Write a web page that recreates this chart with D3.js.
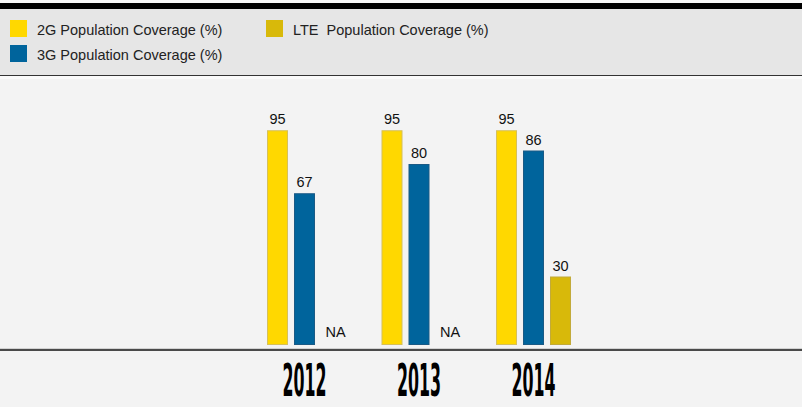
<!DOCTYPE html>
<html>
<head>
<meta charset="utf-8" />
<style>
  body { margin: 0; background: #f3f3f3; }
  svg { display: block; }
  text { font-family: "Liberation Sans", Arial, sans-serif; fill: #111; }
  .legend-text { font-size: 14.5px; fill: #222; }
  .value { font-size: 14.5px; text-anchor: middle; }
  .year { font-family: "Liberation Sans Narrow", "DejaVu Sans Condensed", sans-serif; font-weight: bold; font-size: 44px; text-anchor: middle; fill: #000; }
</style>
<script src="https://cdn.jsdelivr.net/npm/d3@7"></script>
</head>
<body>
<div id="graph"></div>
<script>
  var years = ['2012', '2013', '2014'];
  var seriesNames = ['2G Population Coverage (%)', '3G Population Coverage (%)', 'LTE  Population Coverage (%)'];
  var cov2G = [95, 95, 95];
  var cov3G = [67, 80, 86];
  var covLTE = [null, null, 30];   // NA

  var colors = ['#ffd800', '#00649c', '#d8b90a'];
  var strokes = ['#d6c05a', '#1a5a85', '#c2aa3a'];

  var w = 802, h = 407;

  var svg = d3.select('#graph').append('svg')
      .attr('width', w)
      .attr('height', h);

  // background pieces
  svg.append('rect').attr('width', w).attr('height', h).attr('fill', '#f3f3f3');
  svg.append('rect').attr('x', 0).attr('y', 9).attr('width', w).attr('height', 66).attr('fill', '#e6e6e6');
  svg.append('rect').attr('x', 0).attr('y', 3).attr('width', w).attr('height', 6).attr('fill', '#000');
  svg.append('rect').attr('x', 0).attr('y', 0).attr('width', w).attr('height', 3).attr('fill', '#f8f8f8');
  svg.append('line').attr('x1', 0).attr('x2', w).attr('y1', 75.5).attr('y2', 75.5)
      .attr('stroke', '#333').attr('stroke-width', 1.2);
  svg.append('rect').attr('x', 0).attr('y', 76).attr('width', w).attr('height', 3).attr('fill', '#fafafa');

  // legend
  var legendPos = [[10, 20], [10, 45], [266, 20]];
  var legend = svg.append('g').attr('id', 'legend');
  var items = legend.selectAll('g')
    .data(seriesNames)
    .enter().append('g')
      .attr('transform', (d, i) => `translate(${legendPos[i][0]},${legendPos[i][1]})`);
  items.append('rect')
      .attr('width', 17).attr('height', 17)
      .attr('fill', (d, i) => colors[i]);
  items.append('text')
      .attr('class', 'legend-text')
      .attr('x', 27).attr('y', 15)
      .attr('xml:space', 'preserve')
      .text(d => d);

  // scales
  var baseY = 344;
  var x = d3.scaleBand()
      .domain(years)
      .range([267, 571])
      .paddingInner(0.345);

  var xs = d3.scaleBand()
      .domain([0, 1, 2])
      .range([0, x.bandwidth()])
      .paddingInner(0.222)
      .paddingOuter(0);

  var y = d3.scaleLinear()
      .domain([0, 100])
      .range([baseY, 119]);

  var groups = svg.append('g').selectAll('g')
    .data(years.map((yr, i) => ({ year: yr, values: [cov2G[i], cov3G[i], covLTE[i]] })))
    .enter().append('g')
      .attr('transform', d => `translate(${x(d.year)},0)`);

  var cells = groups.selectAll('g')
    .data(d => d.values.map((v, k) => ({ v: v, k: k })))
    .enter().append('g');

  cells.filter(d => d.v != null).append('rect')
      .attr('x', d => xs(d.k) + 0.5)
      .attr('y', d => y(d.v) + 0.5)
      .attr('width', xs.bandwidth() - 1)
      .attr('height', d => baseY - y(d.v))
      .attr('fill', d => colors[d.k])
      .attr('stroke', d => strokes[d.k])
      .attr('stroke-width', 1);

  cells.append('text')
      .attr('class', 'value')
      .attr('x', d => xs(d.k) + xs.bandwidth() / 2 + (d.v == null ? 4 : 0))
      .attr('y', d => d.v == null ? baseY - 7 : y(d.v) - 6)
      .text(d => d.v == null ? 'NA' : d.v);

  // baseline
  svg.append('line').attr('x1', 0).attr('x2', w).attr('y1', 350).attr('y2', 350)
      .attr('stroke', '#111').attr('stroke-width', 1.6);
  svg.append('line').attr('x1', 0).attr('x2', w).attr('y1', 348.5).attr('y2', 348.5)
      .attr('stroke', '#bbb').attr('stroke-width', 0.6);

  // year labels
  svg.append('g').selectAll('text')
    .data(years)
    .enter().append('text')
      .attr('class', 'year')
      .attr('x', d => x(d) + x.bandwidth() / 2)
      .attr('y', 396)
      .attr('textLength', 44)
      .attr('lengthAdjust', 'spacingAndGlyphs')
      .text(d => d);
</script>
</body>
</html>
